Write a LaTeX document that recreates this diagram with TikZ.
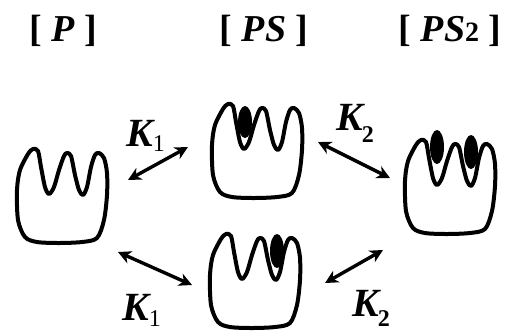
\documentclass[tikz,border=0pt]{standalone}
\usepackage{fontspec}
\setmainfont{Liberation Serif}
\usetikzlibrary{arrows.meta}
\begin{document}
\begin{tikzpicture}[x=1pt,y=-1pt,
  shapeline/.style={line width=4pt, line join=round},
  link/.style={line width=3.4pt,
    {Stealth[length=13pt,width=13pt,inset=4pt]}-{Stealth[length=13pt,width=13pt,inset=4pt]}},
  title/.style={font=\fontsize{38}{42}\selectfont\bfseries, inner sep=0pt},
  rate/.style={font=\fontsize{40}{42}\selectfont\bfseries\itshape, inner sep=0pt, anchor=base west},
  ligand/.style={fill=black},
  protein/.pic={
    \draw[shapeline] plot[smooth cycle, tension=0.5] coordinates {
      (-25,47) (-37,42) (-44,25) (-45,-5) (-42,-25)
      (-34,-41) (-29,-46) (-24,-44)
      (-21,-28) (-17,-8) (-13,-1) (-8,-8) (-3,-25)
      (2,-39) (5,-42) (9,-39)
      (13,-20) (17,-5) (21,0) (25,-8) (29,-28)
      (33,-40) (37,-42) (42,-37)
      (45,-22) (45,0) (42,25) (35,43) (20,47) (-3,48)};
  }]
\useasboundingbox (0,0) rectangle (506,333);

% headings
\node[title] (tP)   at (63,31)  {[ \textit{P} ]};
\node[title] (tPS)  at (264,31) {[ \textit{PS} ]};
\node[title] (tPS2) at (450,31) {[ \textit{PS}{\fontsize{28}{30}\selectfont 2} ]};

% protein outlines
\pic (free)  at (62,195)  {protein};
\pic (one)   at (257,150) {protein};
\pic (two)   at (450,186) {protein};
\pic (oneb)  at (255,280) {protein};

% bound substrate molecules, sitting in the clefts
\fill[ligand] (245,122) ellipse [x radius=7pt, y radius=16pt];
\fill[ligand] (437,147) ellipse [x radius=7pt, y radius=17pt];
\fill[ligand] (471,152) ellipse [x radius=7pt, y radius=17pt];
\fill[ligand] (277,251) ellipse [x radius=7pt, y radius=17pt];

% equilibrium arrows
\coordinate (a1s) at (128,180); \coordinate (a1e) at (188,147);
\coordinate (a2s) at (318,142); \coordinate (a2e) at (390,178);
\coordinate (a3s) at (118,252); \coordinate (a3e) at (192,285);
\coordinate (a4s) at (325,283); \coordinate (a4e) at (383,250);
\draw[link] (a1s) -- (a1e);
\draw[link] (a2s) -- (a2e);
\draw[link] (a3s) -- (a3e);
\draw[link] (a4s) -- (a4e);

% equilibrium constants
\node[rate] (k1a) at (126,146) {K\raisebox{-5pt}{\fontsize{24}{24}\selectfont\upshape\mdseries 1}};
\node[rate] (k2a) at (336,130) {K\kern-1pt\raisebox{-12pt}{\fontsize{24}{24}\selectfont\upshape 2}};
\node[rate] (k1b) at (122,320) {K\raisebox{-6pt}{\fontsize{24}{24}\selectfont\upshape\mdseries 1}};
\node[rate] (k2b) at (352,316) {K\kern-1pt\raisebox{-10pt}{\fontsize{24}{24}\selectfont\upshape 2}};
\end{tikzpicture}
\end{document}
